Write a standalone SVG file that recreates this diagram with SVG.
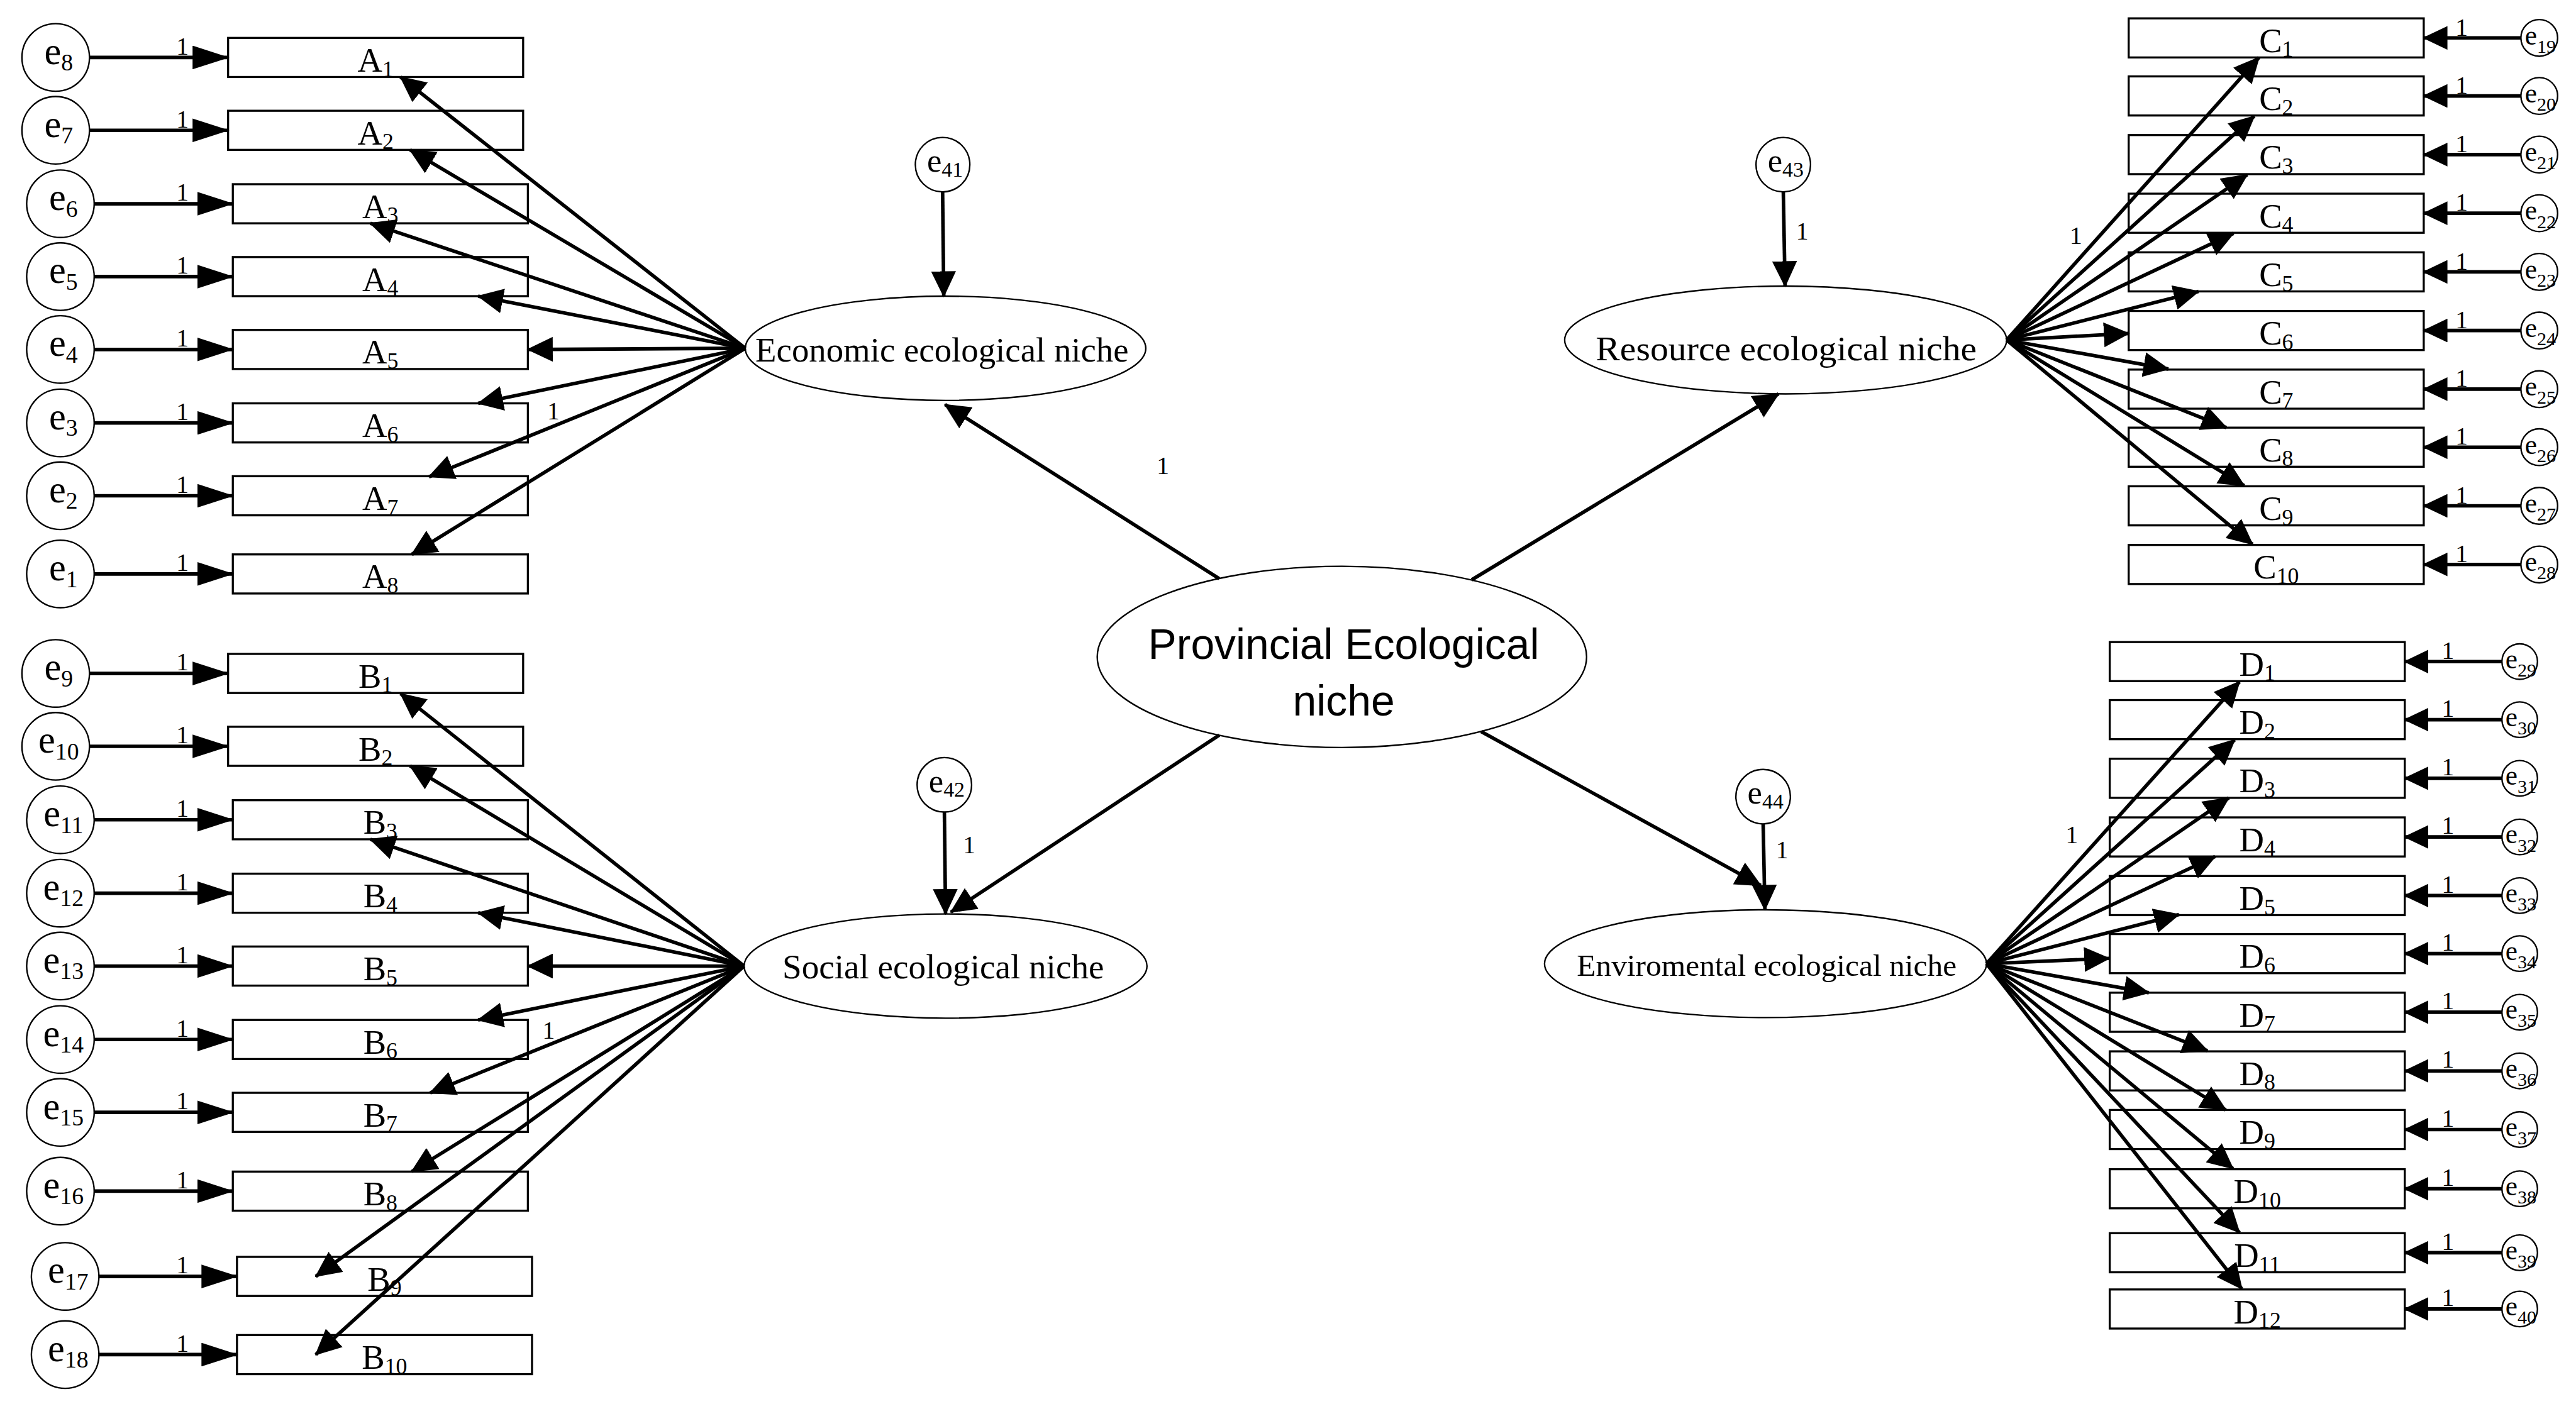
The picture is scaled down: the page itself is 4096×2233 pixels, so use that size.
<svg xmlns="http://www.w3.org/2000/svg" width="4096" height="2233" viewBox="0 0 4096 2233">
<style>
.box{fill:#fff;stroke:#000;stroke-width:3.5}
.err{fill:#fff;stroke:#000;stroke-width:2.5}
.lat{fill:#fff;stroke:#000;stroke-width:2.5}
.c{stroke:#000;stroke-width:6;fill:none}
text{font-family:"Liberation Serif","Times New Roman",serif;fill:#000}
.lbl{font-size:58px;text-anchor:middle}
.sub{font-size:38px}
.el{font-size:64px;text-anchor:middle}
.es{font-size:40px}
.em{font-size:56px;text-anchor:middle}
.ems{font-size:36px}
.er{font-size:46px;text-anchor:middle}
.ers{font-size:32px}
.one{font-size:42px;text-anchor:middle}
.lt{font-size:58px;text-anchor:middle}
.cen{font-family:"Liberation Sans",Arial,sans-serif;font-size:72px;text-anchor:middle}
</style>
<defs>
<marker id="hL" markerUnits="userSpaceOnUse" markerWidth="62" markerHeight="40" viewBox="0 0 62 40" refX="60" refY="20" orient="auto"><path d="M0,0L62,20L0,40z"/></marker>
<marker id="hR" markerUnits="userSpaceOnUse" markerWidth="42" markerHeight="40" viewBox="0 0 42 40" refX="40" refY="20" orient="auto"><path d="M0,0L42,20L0,40z"/></marker>
<marker id="hF" markerUnits="userSpaceOnUse" markerWidth="44" markerHeight="42" viewBox="0 0 44 42" refX="42" refY="21" orient="auto"><path d="M0,0L44,21L0,42z"/></marker>
</defs>
<rect width="4096" height="2233" fill="#fff"/>
<g transform="scale(0.94204)">
<!-- A indicators -->
<g id="A1"><rect class="box" x="385" y="64" width="498" height="66"/><text class="lbl" x="634" y="121">A<tspan class="sub" dy="8">1</tspan></text></g>
<g id="A2"><rect class="box" x="385" y="187" width="498" height="66"/><text class="lbl" x="634" y="244">A<tspan class="sub" dy="8">2</tspan></text></g>
<g id="A3"><rect class="box" x="393" y="311" width="498" height="66"/><text class="lbl" x="642" y="368">A<tspan class="sub" dy="8">3</tspan></text></g>
<g id="A4"><rect class="box" x="393" y="434" width="498" height="66"/><text class="lbl" x="642" y="491">A<tspan class="sub" dy="8">4</tspan></text></g>
<g id="A5"><rect class="box" x="393" y="557" width="498" height="66"/><text class="lbl" x="642" y="614">A<tspan class="sub" dy="8">5</tspan></text></g>
<g id="A6"><rect class="box" x="393" y="681" width="498" height="66"/><text class="lbl" x="642" y="738">A<tspan class="sub" dy="8">6</tspan></text></g>
<g id="A7"><rect class="box" x="393" y="804" width="498" height="66"/><text class="lbl" x="642" y="861">A<tspan class="sub" dy="8">7</tspan></text></g>
<g id="A8"><rect class="box" x="393" y="936" width="498" height="66"/><text class="lbl" x="642" y="993">A<tspan class="sub" dy="8">8</tspan></text></g>
<!-- B indicators -->
<g id="B1"><rect class="box" x="385" y="1104" width="498" height="66"/><text class="lbl" x="634" y="1161">B<tspan class="sub" dy="8">1</tspan></text></g>
<g id="B2"><rect class="box" x="385" y="1227" width="498" height="66"/><text class="lbl" x="634" y="1284">B<tspan class="sub" dy="8">2</tspan></text></g>
<g id="B3"><rect class="box" x="393" y="1351" width="498" height="66"/><text class="lbl" x="642" y="1408">B<tspan class="sub" dy="8">3</tspan></text></g>
<g id="B4"><rect class="box" x="393" y="1475" width="498" height="66"/><text class="lbl" x="642" y="1532">B<tspan class="sub" dy="8">4</tspan></text></g>
<g id="B5"><rect class="box" x="393" y="1598" width="498" height="66"/><text class="lbl" x="642" y="1655">B<tspan class="sub" dy="8">5</tspan></text></g>
<g id="B6"><rect class="box" x="393" y="1722" width="498" height="66"/><text class="lbl" x="642" y="1779">B<tspan class="sub" dy="8">6</tspan></text></g>
<g id="B7"><rect class="box" x="393" y="1845" width="498" height="66"/><text class="lbl" x="642" y="1902">B<tspan class="sub" dy="8">7</tspan></text></g>
<g id="B8"><rect class="box" x="393" y="1978" width="498" height="66"/><text class="lbl" x="642" y="2035">B<tspan class="sub" dy="8">8</tspan></text></g>
<g id="B9"><rect class="box" x="400" y="2122" width="498" height="66"/><text class="lbl" x="649" y="2179">B<tspan class="sub" dy="8">9</tspan></text></g>
<g id="B10"><rect class="box" x="400" y="2254" width="498" height="66"/><text class="lbl" x="649" y="2311">B<tspan class="sub" dy="8">10</tspan></text></g>
<!-- C indicators -->
<g id="C1"><rect class="box" x="3593" y="31" width="498" height="66"/><text class="lbl" x="3842" y="88">C<tspan class="sub" dy="8">1</tspan></text></g>
<g id="C2"><rect class="box" x="3593" y="129" width="498" height="66"/><text class="lbl" x="3842" y="186">C<tspan class="sub" dy="8">2</tspan></text></g>
<g id="C3"><rect class="box" x="3593" y="228" width="498" height="66"/><text class="lbl" x="3842" y="285">C<tspan class="sub" dy="8">3</tspan></text></g>
<g id="C4"><rect class="box" x="3593" y="327" width="498" height="66"/><text class="lbl" x="3842" y="384">C<tspan class="sub" dy="8">4</tspan></text></g>
<g id="C5"><rect class="box" x="3593" y="426" width="498" height="66"/><text class="lbl" x="3842" y="483">C<tspan class="sub" dy="8">5</tspan></text></g>
<g id="C6"><rect class="box" x="3593" y="525" width="498" height="66"/><text class="lbl" x="3842" y="582">C<tspan class="sub" dy="8">6</tspan></text></g>
<g id="C7"><rect class="box" x="3593" y="624" width="498" height="66"/><text class="lbl" x="3842" y="681">C<tspan class="sub" dy="8">7</tspan></text></g>
<g id="C8"><rect class="box" x="3593" y="722" width="498" height="66"/><text class="lbl" x="3842" y="779">C<tspan class="sub" dy="8">8</tspan></text></g>
<g id="C9"><rect class="box" x="3593" y="821" width="498" height="66"/><text class="lbl" x="3842" y="878">C<tspan class="sub" dy="8">9</tspan></text></g>
<g id="C10"><rect class="box" x="3593" y="920" width="498" height="66"/><text class="lbl" x="3842" y="977">C<tspan class="sub" dy="8">10</tspan></text></g>
<!-- D indicators -->
<g id="D1"><rect class="box" x="3561" y="1084" width="498" height="66"/><text class="lbl" x="3810" y="1141">D<tspan class="sub" dy="8">1</tspan></text></g>
<g id="D2"><rect class="box" x="3561" y="1182" width="498" height="66"/><text class="lbl" x="3810" y="1239">D<tspan class="sub" dy="8">2</tspan></text></g>
<g id="D3"><rect class="box" x="3561" y="1281" width="498" height="66"/><text class="lbl" x="3810" y="1338">D<tspan class="sub" dy="8">3</tspan></text></g>
<g id="D4"><rect class="box" x="3561" y="1380" width="498" height="66"/><text class="lbl" x="3810" y="1437">D<tspan class="sub" dy="8">4</tspan></text></g>
<g id="D5"><rect class="box" x="3561" y="1479" width="498" height="66"/><text class="lbl" x="3810" y="1536">D<tspan class="sub" dy="8">5</tspan></text></g>
<g id="D6"><rect class="box" x="3561" y="1577" width="498" height="66"/><text class="lbl" x="3810" y="1634">D<tspan class="sub" dy="8">6</tspan></text></g>
<g id="D7"><rect class="box" x="3561" y="1676" width="498" height="66"/><text class="lbl" x="3810" y="1733">D<tspan class="sub" dy="8">7</tspan></text></g>
<g id="D8"><rect class="box" x="3561" y="1775" width="498" height="66"/><text class="lbl" x="3810" y="1832">D<tspan class="sub" dy="8">8</tspan></text></g>
<g id="D9"><rect class="box" x="3561" y="1874" width="498" height="66"/><text class="lbl" x="3810" y="1931">D<tspan class="sub" dy="8">9</tspan></text></g>
<g id="D10"><rect class="box" x="3561" y="1974" width="498" height="66"/><text class="lbl" x="3810" y="2031">D<tspan class="sub" dy="8">10</tspan></text></g>
<g id="D11"><rect class="box" x="3561" y="2082" width="498" height="66"/><text class="lbl" x="3810" y="2139">D<tspan class="sub" dy="8">11</tspan></text></g>
<g id="D12"><rect class="box" x="3561" y="2177" width="498" height="66"/><text class="lbl" x="3810" y="2234">D<tspan class="sub" dy="8">12</tspan></text></g>
<!-- left error terms -->
<g id="e8"><circle class="err" cx="94" cy="97" r="57"/><text class="el" x="99" y="108">e<tspan class="es" dy="11">8</tspan></text></g>
<g id="e7"><circle class="err" cx="94" cy="220" r="57"/><text class="el" x="99" y="231">e<tspan class="es" dy="11">7</tspan></text></g>
<g id="e6"><circle class="err" cx="102" cy="344" r="57"/><text class="el" x="107" y="355">e<tspan class="es" dy="11">6</tspan></text></g>
<g id="e5"><circle class="err" cx="102" cy="467" r="57"/><text class="el" x="107" y="478">e<tspan class="es" dy="11">5</tspan></text></g>
<g id="e4"><circle class="err" cx="102" cy="590" r="57"/><text class="el" x="107" y="601">e<tspan class="es" dy="11">4</tspan></text></g>
<g id="e3"><circle class="err" cx="102" cy="714" r="57"/><text class="el" x="107" y="725">e<tspan class="es" dy="11">3</tspan></text></g>
<g id="e2"><circle class="err" cx="102" cy="837" r="57"/><text class="el" x="107" y="848">e<tspan class="es" dy="11">2</tspan></text></g>
<g id="e1"><circle class="err" cx="102" cy="969" r="57"/><text class="el" x="107" y="980">e<tspan class="es" dy="11">1</tspan></text></g>
<g id="e9"><circle class="err" cx="94" cy="1137" r="57"/><text class="el" x="99" y="1148">e<tspan class="es" dy="11">9</tspan></text></g>
<g id="e10"><circle class="err" cx="94" cy="1260" r="57"/><text class="el" x="99" y="1271">e<tspan class="es" dy="11">10</tspan></text></g>
<g id="e11"><circle class="err" cx="102" cy="1384" r="57"/><text class="el" x="107" y="1395">e<tspan class="es" dy="11">11</tspan></text></g>
<g id="e12"><circle class="err" cx="102" cy="1508" r="57"/><text class="el" x="107" y="1519">e<tspan class="es" dy="11">12</tspan></text></g>
<g id="e13"><circle class="err" cx="102" cy="1631" r="57"/><text class="el" x="107" y="1642">e<tspan class="es" dy="11">13</tspan></text></g>
<g id="e14"><circle class="err" cx="102" cy="1755" r="57"/><text class="el" x="107" y="1766">e<tspan class="es" dy="11">14</tspan></text></g>
<g id="e15"><circle class="err" cx="102" cy="1878" r="57"/><text class="el" x="107" y="1889">e<tspan class="es" dy="11">15</tspan></text></g>
<g id="e16"><circle class="err" cx="102" cy="2011" r="57"/><text class="el" x="107" y="2022">e<tspan class="es" dy="11">16</tspan></text></g>
<g id="e17"><circle class="err" cx="110" cy="2155" r="57"/><text class="el" x="115" y="2166">e<tspan class="es" dy="11">17</tspan></text></g>
<g id="e18"><circle class="err" cx="110" cy="2287" r="57"/><text class="el" x="115" y="2298">e<tspan class="es" dy="11">18</tspan></text></g>
<!-- right error terms C -->
<g id="e19"><circle class="err" cx="4286" cy="64" r="31"/><text class="er" x="4288" y="75">e<tspan class="ers" dy="14">19</tspan></text></g>
<g id="e20"><circle class="err" cx="4286" cy="162" r="31"/><text class="er" x="4288" y="173">e<tspan class="ers" dy="14">20</tspan></text></g>
<g id="e21"><circle class="err" cx="4286" cy="261" r="31"/><text class="er" x="4288" y="272">e<tspan class="ers" dy="14">21</tspan></text></g>
<g id="e22"><circle class="err" cx="4286" cy="360" r="31"/><text class="er" x="4288" y="371">e<tspan class="ers" dy="14">22</tspan></text></g>
<g id="e23"><circle class="err" cx="4286" cy="459" r="31"/><text class="er" x="4288" y="470">e<tspan class="ers" dy="14">23</tspan></text></g>
<g id="e24"><circle class="err" cx="4286" cy="558" r="31"/><text class="er" x="4288" y="569">e<tspan class="ers" dy="14">24</tspan></text></g>
<g id="e25"><circle class="err" cx="4286" cy="657" r="31"/><text class="er" x="4288" y="668">e<tspan class="ers" dy="14">25</tspan></text></g>
<g id="e26"><circle class="err" cx="4286" cy="755" r="31"/><text class="er" x="4288" y="766">e<tspan class="ers" dy="14">26</tspan></text></g>
<g id="e27"><circle class="err" cx="4286" cy="854" r="31"/><text class="er" x="4288" y="865">e<tspan class="ers" dy="14">27</tspan></text></g>
<g id="e28"><circle class="err" cx="4286" cy="953" r="31"/><text class="er" x="4288" y="964">e<tspan class="ers" dy="14">28</tspan></text></g>
<!-- right error terms D -->
<g id="e29"><circle class="err" cx="4253" cy="1117" r="30"/><text class="er" x="4255" y="1128">e<tspan class="ers" dy="14">29</tspan></text></g>
<g id="e30"><circle class="err" cx="4253" cy="1215" r="30"/><text class="er" x="4255" y="1226">e<tspan class="ers" dy="14">30</tspan></text></g>
<g id="e31"><circle class="err" cx="4253" cy="1314" r="30"/><text class="er" x="4255" y="1325">e<tspan class="ers" dy="14">31</tspan></text></g>
<g id="e32"><circle class="err" cx="4253" cy="1413" r="30"/><text class="er" x="4255" y="1424">e<tspan class="ers" dy="14">32</tspan></text></g>
<g id="e33"><circle class="err" cx="4253" cy="1512" r="30"/><text class="er" x="4255" y="1523">e<tspan class="ers" dy="14">33</tspan></text></g>
<g id="e34"><circle class="err" cx="4253" cy="1610" r="30"/><text class="er" x="4255" y="1621">e<tspan class="ers" dy="14">34</tspan></text></g>
<g id="e35"><circle class="err" cx="4253" cy="1709" r="30"/><text class="er" x="4255" y="1720">e<tspan class="ers" dy="14">35</tspan></text></g>
<g id="e36"><circle class="err" cx="4253" cy="1808" r="30"/><text class="er" x="4255" y="1819">e<tspan class="ers" dy="14">36</tspan></text></g>
<g id="e37"><circle class="err" cx="4253" cy="1907" r="30"/><text class="er" x="4255" y="1918">e<tspan class="ers" dy="14">37</tspan></text></g>
<g id="e38"><circle class="err" cx="4253" cy="2007" r="30"/><text class="er" x="4255" y="2018">e<tspan class="ers" dy="14">38</tspan></text></g>
<g id="e39"><circle class="err" cx="4253" cy="2115" r="30"/><text class="er" x="4255" y="2126">e<tspan class="ers" dy="14">39</tspan></text></g>
<g id="e40"><circle class="err" cx="4253" cy="2210" r="30"/><text class="er" x="4255" y="2221">e<tspan class="ers" dy="14">40</tspan></text></g>
<!-- latent error terms -->
<g id="e41"><circle class="err" cx="1591" cy="278" r="46"/><text class="em" x="1595" y="290">e<tspan class="ems" dy="8">41</tspan></text></g>
<g id="e42"><circle class="err" cx="1594" cy="1325" r="46"/><text class="em" x="1598" y="1337">e<tspan class="ems" dy="8">42</tspan></text></g>
<g id="e43"><circle class="err" cx="3010" cy="278" r="46"/><text class="em" x="3014" y="290">e<tspan class="ems" dy="8">43</tspan></text></g>
<g id="e44"><circle class="err" cx="2976" cy="1345" r="46"/><text class="em" x="2980" y="1357">e<tspan class="ems" dy="8">44</tspan></text></g>
<!-- latent factors -->
<g id="economic"><ellipse class="lat" cx="1596" cy="588" rx="338" ry="88"/><text class="lt" x="1590" y="610" textLength="630" lengthAdjust="spacingAndGlyphs">Economic ecological niche</text></g>
<g id="social"><ellipse class="lat" cx="1596" cy="1631" rx="340" ry="88"/><text class="lt" x="1592" y="1652" textLength="543" lengthAdjust="spacingAndGlyphs">Social ecological niche</text></g>
<g id="resource"><ellipse class="lat" cx="3014" cy="574" rx="373" ry="91"/><text class="lt" x="3015" y="608" textLength="643" lengthAdjust="spacingAndGlyphs">Resource ecological niche</text></g>
<g id="enviromental"><ellipse class="lat" cx="2980" cy="1627" rx="373" ry="91"/><text class="lt" style="font-size:52px" x="2982" y="1647" textLength="641" lengthAdjust="spacingAndGlyphs">Enviromental ecological niche</text></g>
<g id="provincial"><ellipse class="lat" cx="2265" cy="1109" rx="413" ry="153"/><text class="cen" x="2268" y="1112">Provincial Ecological</text><text class="cen" x="2268" y="1208">niche</text></g>
<g id="connectors">
<!-- left error arrows A -->
<line class="c" x1="151" y1="97" x2="385" y2="97" marker-end="url(#hL)"/>
<line class="c" x1="151" y1="220" x2="385" y2="220" marker-end="url(#hL)"/>
<line class="c" x1="159" y1="344" x2="393" y2="344" marker-end="url(#hL)"/>
<line class="c" x1="159" y1="467" x2="393" y2="467" marker-end="url(#hL)"/>
<line class="c" x1="159" y1="590" x2="393" y2="590" marker-end="url(#hL)"/>
<line class="c" x1="159" y1="714" x2="393" y2="714" marker-end="url(#hL)"/>
<line class="c" x1="159" y1="837" x2="393" y2="837" marker-end="url(#hL)"/>
<line class="c" x1="159" y1="969" x2="393" y2="969" marker-end="url(#hL)"/>
<!-- left error arrows B -->
<line class="c" x1="151" y1="1137" x2="385" y2="1137" marker-end="url(#hL)"/>
<line class="c" x1="151" y1="1260" x2="385" y2="1260" marker-end="url(#hL)"/>
<line class="c" x1="159" y1="1384" x2="393" y2="1384" marker-end="url(#hL)"/>
<line class="c" x1="159" y1="1508" x2="393" y2="1508" marker-end="url(#hL)"/>
<line class="c" x1="159" y1="1631" x2="393" y2="1631" marker-end="url(#hL)"/>
<line class="c" x1="159" y1="1755" x2="393" y2="1755" marker-end="url(#hL)"/>
<line class="c" x1="159" y1="1878" x2="393" y2="1878" marker-end="url(#hL)"/>
<line class="c" x1="159" y1="2011" x2="393" y2="2011" marker-end="url(#hL)"/>
<line class="c" x1="167" y1="2155" x2="400" y2="2155" marker-end="url(#hL)"/>
<line class="c" x1="167" y1="2287" x2="400" y2="2287" marker-end="url(#hL)"/>
<!-- right error arrows C -->
<line class="c" x1="4255" y1="64" x2="4091" y2="64" marker-end="url(#hR)"/>
<line class="c" x1="4255" y1="162" x2="4091" y2="162" marker-end="url(#hR)"/>
<line class="c" x1="4255" y1="261" x2="4091" y2="261" marker-end="url(#hR)"/>
<line class="c" x1="4255" y1="360" x2="4091" y2="360" marker-end="url(#hR)"/>
<line class="c" x1="4255" y1="459" x2="4091" y2="459" marker-end="url(#hR)"/>
<line class="c" x1="4255" y1="558" x2="4091" y2="558" marker-end="url(#hR)"/>
<line class="c" x1="4255" y1="657" x2="4091" y2="657" marker-end="url(#hR)"/>
<line class="c" x1="4255" y1="755" x2="4091" y2="755" marker-end="url(#hR)"/>
<line class="c" x1="4255" y1="854" x2="4091" y2="854" marker-end="url(#hR)"/>
<line class="c" x1="4255" y1="953" x2="4091" y2="953" marker-end="url(#hR)"/>
<!-- right error arrows D -->
<line class="c" x1="4223" y1="1117" x2="4059" y2="1117" marker-end="url(#hR)"/>
<line class="c" x1="4223" y1="1215" x2="4059" y2="1215" marker-end="url(#hR)"/>
<line class="c" x1="4223" y1="1314" x2="4059" y2="1314" marker-end="url(#hR)"/>
<line class="c" x1="4223" y1="1413" x2="4059" y2="1413" marker-end="url(#hR)"/>
<line class="c" x1="4223" y1="1512" x2="4059" y2="1512" marker-end="url(#hR)"/>
<line class="c" x1="4223" y1="1610" x2="4059" y2="1610" marker-end="url(#hR)"/>
<line class="c" x1="4223" y1="1709" x2="4059" y2="1709" marker-end="url(#hR)"/>
<line class="c" x1="4223" y1="1808" x2="4059" y2="1808" marker-end="url(#hR)"/>
<line class="c" x1="4223" y1="1907" x2="4059" y2="1907" marker-end="url(#hR)"/>
<line class="c" x1="4223" y1="2007" x2="4059" y2="2007" marker-end="url(#hR)"/>
<line class="c" x1="4223" y1="2115" x2="4059" y2="2115" marker-end="url(#hR)"/>
<line class="c" x1="4223" y1="2210" x2="4059" y2="2210" marker-end="url(#hR)"/>
<!-- fan A -->
<line class="c" x1="1258" y1="588" x2="676" y2="130" marker-end="url(#hF)"/>
<line class="c" x1="1258" y1="588" x2="692" y2="253" marker-end="url(#hF)"/>
<line class="c" x1="1258" y1="588" x2="625" y2="377" marker-end="url(#hF)"/>
<line class="c" x1="1258" y1="588" x2="807" y2="500" marker-end="url(#hF)"/>
<line class="c" x1="1258" y1="588" x2="891" y2="590" marker-end="url(#hF)"/>
<line class="c" x1="1258" y1="588" x2="807" y2="681" marker-end="url(#hF)"/>
<line class="c" x1="1258" y1="588" x2="724" y2="805" marker-end="url(#hF)"/>
<line class="c" x1="1258" y1="588" x2="695" y2="936" marker-end="url(#hF)"/>
<!-- fan B -->
<line class="c" x1="1256" y1="1631" x2="676" y2="1171" marker-end="url(#hF)"/>
<line class="c" x1="1256" y1="1631" x2="692" y2="1293" marker-end="url(#hF)"/>
<line class="c" x1="1256" y1="1631" x2="625" y2="1417" marker-end="url(#hF)"/>
<line class="c" x1="1256" y1="1631" x2="807" y2="1541" marker-end="url(#hF)"/>
<line class="c" x1="1256" y1="1631" x2="891" y2="1631" marker-end="url(#hF)"/>
<line class="c" x1="1256" y1="1631" x2="807" y2="1722" marker-end="url(#hF)"/>
<line class="c" x1="1256" y1="1631" x2="726" y2="1845" marker-end="url(#hF)"/>
<line class="c" x1="1256" y1="1631" x2="695" y2="1978" marker-end="url(#hF)"/>
<line class="c" x1="1256" y1="1631" x2="533" y2="2155" marker-end="url(#hF)"/>
<line class="c" x1="1256" y1="1631" x2="533" y2="2287" marker-end="url(#hF)"/>
<!-- fan C -->
<line class="c" x1="3387" y1="574" x2="3813" y2="97" marker-end="url(#hF)"/>
<line class="c" x1="3387" y1="574" x2="3805" y2="196" marker-end="url(#hF)"/>
<line class="c" x1="3387" y1="574" x2="3793" y2="295" marker-end="url(#hF)"/>
<line class="c" x1="3387" y1="574" x2="3770" y2="394" marker-end="url(#hF)"/>
<line class="c" x1="3387" y1="574" x2="3711" y2="492" marker-end="url(#hF)"/>
<line class="c" x1="3387" y1="574" x2="3593" y2="563" marker-end="url(#hF)"/>
<line class="c" x1="3387" y1="574" x2="3660" y2="623" marker-end="url(#hF)"/>
<line class="c" x1="3387" y1="574" x2="3758" y2="722" marker-end="url(#hF)"/>
<line class="c" x1="3387" y1="574" x2="3788" y2="820" marker-end="url(#hF)"/>
<line class="c" x1="3387" y1="574" x2="3802" y2="919" marker-end="url(#hF)"/>
<!-- fan D -->
<line class="c" x1="3353" y1="1627" x2="3780" y2="1151" marker-end="url(#hF)"/>
<line class="c" x1="3353" y1="1627" x2="3772" y2="1249" marker-end="url(#hF)"/>
<line class="c" x1="3353" y1="1627" x2="3762" y2="1347" marker-end="url(#hF)"/>
<line class="c" x1="3353" y1="1627" x2="3739" y2="1446" marker-end="url(#hF)"/>
<line class="c" x1="3353" y1="1627" x2="3678" y2="1544" marker-end="url(#hF)"/>
<line class="c" x1="3353" y1="1627" x2="3560" y2="1618" marker-end="url(#hF)"/>
<line class="c" x1="3353" y1="1627" x2="3627" y2="1676" marker-end="url(#hF)"/>
<line class="c" x1="3353" y1="1627" x2="3726" y2="1774" marker-end="url(#hF)"/>
<line class="c" x1="3353" y1="1627" x2="3757" y2="1874" marker-end="url(#hF)"/>
<line class="c" x1="3353" y1="1627" x2="3769" y2="1973" marker-end="url(#hF)"/>
<line class="c" x1="3353" y1="1627" x2="3780" y2="2081" marker-end="url(#hF)"/>
<line class="c" x1="3353" y1="1627" x2="3784" y2="2176" marker-end="url(#hF)"/>
<!-- latent errors -->
<line class="c" x1="1591" y1="324" x2="1593" y2="500" marker-end="url(#hF)"/>
<line class="c" x1="1594" y1="1371" x2="1596" y2="1543" marker-end="url(#hF)"/>
<line class="c" x1="3010" y1="324" x2="3013" y2="483" marker-end="url(#hF)"/>
<line class="c" x1="2976" y1="1391" x2="2979" y2="1536" marker-end="url(#hF)"/>
<!-- central links -->
<line class="c" x1="2058" y1="977" x2="1595" y2="683" marker-end="url(#hF)"/>
<line class="c" x1="2484" y1="979" x2="3002" y2="665" marker-end="url(#hF)"/>
<line class="c" x1="2058" y1="1241" x2="1605" y2="1540" marker-end="url(#hF)"/>
<line class="c" x1="2500" y1="1235" x2="2972" y2="1495" marker-end="url(#hF)"/>
</g>
<g id="connector-labels">
<text class="one" x="308" y="92">1</text>
<text class="one" x="308" y="215">1</text>
<text class="one" x="308" y="339">1</text>
<text class="one" x="308" y="462">1</text>
<text class="one" x="308" y="585">1</text>
<text class="one" x="308" y="709">1</text>
<text class="one" x="308" y="832">1</text>
<text class="one" x="308" y="964">1</text>
<text class="one" x="308" y="1132">1</text>
<text class="one" x="308" y="1255">1</text>
<text class="one" x="308" y="1379">1</text>
<text class="one" x="308" y="1503">1</text>
<text class="one" x="308" y="1626">1</text>
<text class="one" x="308" y="1750">1</text>
<text class="one" x="308" y="1873">1</text>
<text class="one" x="308" y="2006">1</text>
<text class="one" x="308" y="2150">1</text>
<text class="one" x="308" y="2282">1</text>
<text class="one" x="4155" y="60">1</text>
<text class="one" x="4155" y="158">1</text>
<text class="one" x="4155" y="257">1</text>
<text class="one" x="4155" y="356">1</text>
<text class="one" x="4155" y="455">1</text>
<text class="one" x="4155" y="554">1</text>
<text class="one" x="4155" y="653">1</text>
<text class="one" x="4155" y="751">1</text>
<text class="one" x="4155" y="850">1</text>
<text class="one" x="4155" y="949">1</text>
<text class="one" x="4132" y="1112">1</text>
<text class="one" x="4132" y="1210">1</text>
<text class="one" x="4132" y="1309">1</text>
<text class="one" x="4132" y="1408">1</text>
<text class="one" x="4132" y="1507">1</text>
<text class="one" x="4132" y="1605">1</text>
<text class="one" x="4132" y="1704">1</text>
<text class="one" x="4132" y="1803">1</text>
<text class="one" x="4132" y="1902">1</text>
<text class="one" x="4132" y="2002">1</text>
<text class="one" x="4132" y="2110">1</text>
<text class="one" x="4132" y="2205">1</text>
<text class="one" x="934" y="708">1</text>
<text class="one" x="926" y="1754">1</text>
<text class="one" x="3504" y="412">1</text>
<text class="one" x="3497" y="1424">1</text>
<text class="one" x="1963" y="800">1</text>
<text class="one" x="1636" y="1440">1</text>
<text class="one" x="3042" y="404">1</text>
<text class="one" x="3008" y="1449">1</text>
</g>
</g>
</svg>
